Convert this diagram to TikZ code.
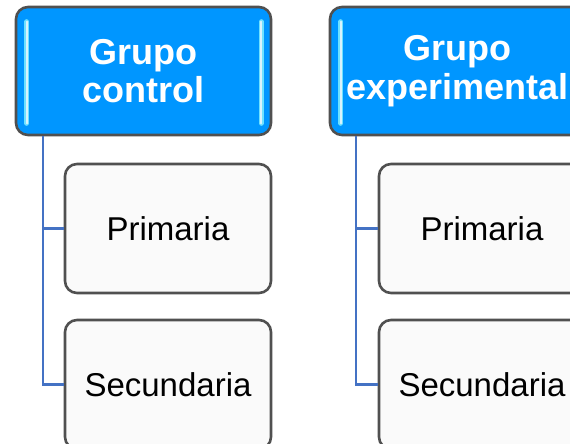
\documentclass[tikz,border=0pt]{standalone}
\usepackage{fontspec}
\setmainfont{Liberation Sans}
\usepackage{xcolor}
\usetikzlibrary{calc}
\definecolor{grpblue}{RGB}{0,150,255}
\definecolor{grpglow}{RGB}{110,225,255}
\definecolor{boxgray}{RGB}{80,80,80}
\definecolor{linkblue}{RGB}{68,114,196}
\tikzset{
	grp/.style={draw=boxgray,line width=2.6pt,fill=grpblue,rounded corners=12pt,
		minimum width=255pt,minimum height=128pt,align=center,text=white,
		font=\fontsize{36}{38.5}\selectfont\bfseries},
	sub/.style={draw=boxgray,line width=2.6pt,fill=black!2,rounded corners=12pt,
		minimum width=206pt,minimum height=129pt,
		font=\fontsize{33}{38}\selectfont},
	link/.style={draw=linkblue,line width=2.4pt},
	glow/.style={draw=grpglow,line width=5pt,line cap=round},
	glowcore/.style={draw=cyan!15,line width=2pt,line cap=round}
}

\begin{document}
\begin{tikzpicture}[x=1pt,y=-1pt]
%   [ctl]          [exp]
%    |-[ctlpri]     |-[exppri]
%    |-[ctlsec]     |-[expsec]
	\useasboundingbox (0,0) rectangle (570,444);

	% two groups
	\node[grp] (ctl) at (143.5,71) {Grupo\\control};
	\node[grp] (exp) at (457.5,71) {Grupo\\experimental};
	\foreach \g in {ctl,exp} {
		\draw[glow] ($(\g.north west)+(12,16)$) -- ($(\g.south west)+(12,-13)$);
		\draw[glow] ($(\g.north east)+(-11,16)$) -- ($(\g.south east)+(-11,-13)$);
		\draw[glowcore] ($(\g.north west)+(12,16)$) -- ($(\g.south west)+(12,-13)$);
		\draw[glowcore] ($(\g.north east)+(-11,16)$) -- ($(\g.south east)+(-11,-13)$);
	}

	% levels
	\node[sub] (ctlpri) at (168,228.5) {Primaria};
	\node[sub] (ctlsec) at (168,384.5) {Secundaria};
	\node[sub] (exppri) at (482,228.5) {Primaria};
	\node[sub] (expsec) at (482,384.5) {Secundaria};

	% spines
	\coordinate (ctlroot) at ($(ctl.south west)+(28,0)$);
	\coordinate (exproot) at ($(exp.south west)+(27,0)$);
	\draw[link] (ctlroot) |- (ctlpri.west) (ctlroot) |- (ctlsec.west);
	\draw[link] (exproot) |- (exppri.west) (exproot) |- (expsec.west);

\end{tikzpicture}
\end{document}
